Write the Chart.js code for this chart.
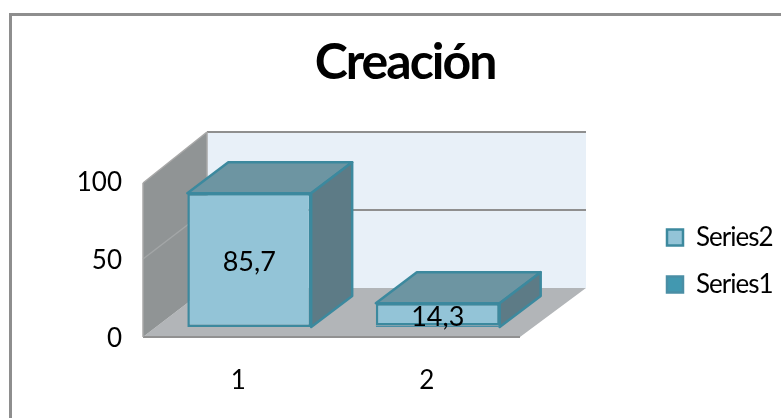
<!DOCTYPE html>
<html>
<head>
<meta charset="utf-8">
<title>Creación</title>
<script src="https://cdn.jsdelivr.net/npm/chart.js@4/dist/chart.umd.min.js"></script>
<style>
    html, body { margin: 0; padding: 0; background: #fff; overflow: hidden; }
    canvas { display: block; }
</style>
</head>
<body>
<canvas id="chart" width="781" height="418"></canvas>
<script>
const categories = ["1", "2"];
const series1 = [0, 1];
const series2 = [85.7, 14.3];
const shownValues = [85.7, 14.3];
const yTicks = [0, 50, 100];

const fontName = "Lato";
const outline = "#3c899e";

// the 3d look: walls go back by wallDepth, bars stand a bit off the front edge
const wallDepth = { x: 64, y: -49 };
const barShift = { x: 12, y: -10 };
const barDepth = { x: 41, y: -31 };

function poly(ctx, pts, fill, stroke, width) {
    ctx.beginPath();
    pts.forEach((p, i) => i ? ctx.lineTo(p[0], p[1]) : ctx.moveTo(p[0], p[1]));
    ctx.closePath();
    ctx.fillStyle = fill;
    ctx.fill();
    if (stroke) {
        ctx.strokeStyle = stroke;
        ctx.lineWidth = width;
        ctx.lineJoin = "round";
        ctx.stroke();
    }
}

function line(ctx, x1, y1, x2, y2, color, width) {
    ctx.beginPath();
    ctx.moveTo(x1, y1);
    ctx.lineTo(x2, y2);
    ctx.strokeStyle = color;
    ctx.lineWidth = width;
    ctx.stroke();
}

// Calibri is narrower than Lato, so squeeze the title and legend text
function squeeze(box, spacing) {
    const draw = box.draw;
    box.draw = function (...args) {
        this.ctx.letterSpacing = spacing;
        draw.apply(this, args);
        this.ctx.letterSpacing = "0px";
    };
}

// nudge a scale's tick labels a little off their computed spot
function nudgeLabels(scale, dx, dy) {
    if (scale.patched) return;
    const drawLabels = scale.drawLabels;
    scale.drawLabels = function (area) {
        this.ctx.save();
        this.ctx.translate(dx, dy);
        drawLabels.call(this, area);
        this.ctx.restore();
    };
    scale.patched = true;
}

const scene3d = {
    id: "scene3d",
    beforeLayout(chart) {
        // keep the legend from eating the plot width
        const lg = chart.legend;
        if (!lg.patched) {
            const fit = lg.fit;
            lg.fit = function () {
                fit.call(this);
                this.width = 261;
            };
            squeeze(lg, "-1px");
            squeeze(chart.titleBlock, "-2px");
            lg.patched = true;
        }
    },
    afterLayout(chart) {
        chart.legend.left = 646;
        chart.legend.top += 2;
        chart.legend.bottom += 2;
        nudgeLabels(chart.scales.y, 0, 2);
        nudgeLabels(chart.scales.x, 1, 0);
    },
    beforeDraw(chart) {
        const ctx = chart.ctx;
        ctx.save();
        ctx.strokeStyle = "#8e8e8e";
        ctx.lineWidth = 3;
        ctx.strokeRect(10.5, 14.5, 800, 450);
        ctx.restore();
    },
    beforeDatasetsDraw(chart) {
        const ctx = chart.ctx;
        const x = chart.scales.x, y = chart.scales.y;
        const l = x.left, r = x.right, b = y.getPixelForValue(0), t = y.getPixelForValue(100);
        const dx = wallDepth.x, dy = wallDepth.y;
        ctx.save();

        poly(ctx, [[l + dx, t + dy], [r + dx + 2, t + dy], [r + dx + 2, b + dy], [l + dx, b + dy]], "#e8f0f8");
        poly(ctx, [[l, b], [r, b], [r + dx + 2, b + dy], [l + dx, b + dy]], "#b2b5b8");
        poly(ctx, [[l, t + 2], [l + dx, t + dy], [l + dx, b + dy], [l, b]], "#909495");

        // gridlines on the back wall and the side wall
        yTicks.forEach(v => {
            const py = y.getPixelForValue(v);
            if (v > 0) line(ctx, l + dx, py + dy, r + dx + 2, py + dy, "#8f8f8f", 2);
            if (v > 0 && v < 100) line(ctx, l, py, l + dx, py + dy, "#a3a6a7", 1.5);
        });
        line(ctx, l, b, r, b, "#919191", 2);
        line(ctx, l, b, l, t + 2, "#a8a8a8", 1.5);
        line(ctx, l, t + 2, l + dx, t + dy, "#a8a8a8", 1.5);
        line(ctx, l + dx, t + dy, l + dx, b + dy, "#a8a8a8", 1.5);

        // top and side of each bar, from the library's own bar elements
        const low = chart.getDatasetMeta(0).data;
        const high = chart.getDatasetMeta(1).data;
        high.forEach((bar, i) => {
            const x1 = bar.x - bar.width / 2 + barShift.x;
            const x2 = bar.x + bar.width / 2 + barShift.x;
            const top = bar.y + barShift.y;
            const base = low[i].base + barShift.y;
            const bx = barDepth.x, by = barDepth.y;
            poly(ctx, [[x1, top], [x2, top], [x2 + bx, top + by], [x1 + bx, top + by]], "#6d95a2", outline, 2.5);
            poly(ctx, [[x2, top], [x2 + bx, top + by], [x2 + bx, base + by], [x2, base]], "#5d7b86", outline, 2.5);
        });
        ctx.restore();
    },
    beforeDatasetDraw(chart) {
        chart.ctx.save();
        chart.ctx.translate(barShift.x, barShift.y);
    },
    afterDatasetDraw(chart) {
        chart.ctx.restore();
    },
    afterDatasetsDraw(chart) {
        const ctx = chart.ctx;
        const high = chart.getDatasetMeta(1).data;
        ctx.save();
        ctx.font = "27px " + fontName;
        ctx.fillStyle = "#000";
        ctx.textAlign = "center";
        ctx.textBaseline = "middle";
        high.forEach((bar, i) => {
            const text = String(shownValues[i]).replace(".", ",");
            const top = bar.y + barShift.y;
            const base = chart.getDatasetMeta(0).data[i].base + barShift.y;
            ctx.fillText(text, bar.x + barShift.x, (top + base) / 2 + 2);
        });
        ctx.restore();
    }
};

new Chart(document.getElementById("chart"), {
    type: "bar",
    data: {
        labels: categories,
        datasets: [
            { label: "Series1", data: series1, backgroundColor: "#4298b0", borderColor: "#4a8ea5" },
            { label: "Series2", data: series2, backgroundColor: "#93c4d7", borderColor: outline }
        ]
    },
    options: {
        responsive: false,
        animation: false,
        clip: false,
        layout: { padding: { left: 29 } },
        datasets: {
            bar: { categoryPercentage: 1, barPercentage: 0.657, borderWidth: 2.5, borderSkipped: false }
        },
        scales: {
            x: {
                stacked: true,
                grid: { display: false, drawTicks: false },
                border: { display: false },
                ticks: { color: "#000", padding: 28, font: { family: fontName, size: 26 } },
                afterFit(scale) { scale.height = 81; }
            },
            y: {
                stacked: true,
                min: 0,
                max: 100,
                grid: { display: false, drawTicks: false },
                border: { display: false },
                ticks: {
                    color: "#000",
                    padding: 21,
                    stepSize: 50,
                    font: { family: fontName, size: 26 }
                },
                afterFit(scale) { scale.width = 114; }
            }
        },
        plugins: {
            title: {
                display: true,
                text: "Creación",
                color: "#000",
                font: { family: fontName, size: 50, weight: "bold" },
                padding: { top: 33, bottom: 88 }
            },
            legend: {
                position: "right",
                fullSize: false,
                reverse: true,
                labels: {
                    color: "#000",
                    boxWidth: 16,
                    boxHeight: 16,
                    padding: 21,
                    font: { family: fontName, size: 26 }
                }
            },
            tooltip: { enabled: false }
        }
    },
    plugins: [scene3d]
});
</script>
</body>
</html>
